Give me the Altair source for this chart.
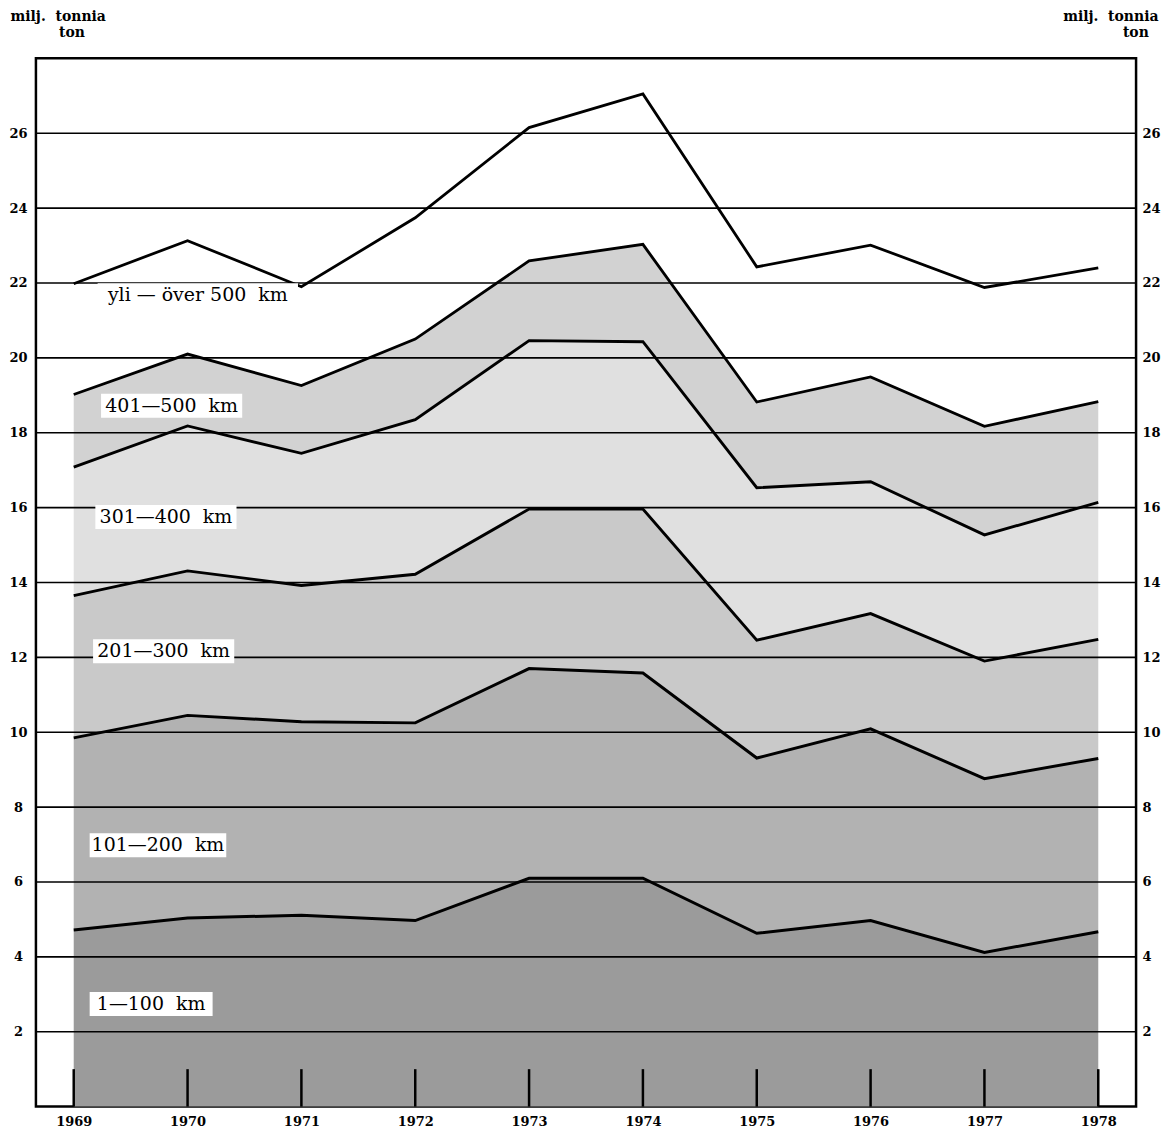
import altair as alt
import pandas as pd

# ---- data (million tonnes, cumulative upper edge of each distance band) ----
years = [1969, 1970, 1971, 1972, 1973, 1974, 1975, 1976, 1977, 1978]
bands = ["1—100 km", "101—200 km", "201—300 km", "301—400 km", "401—500 km", "yli — över 500 km"]

cum_1_100   = [4.72, 5.04, 5.11, 4.97, 6.10, 6.10, 4.63, 4.97, 4.12, 4.67]
cum_101_200 = [9.85, 10.45, 10.28, 10.25, 11.70, 11.58, 9.31, 10.09, 8.76, 9.30]
cum_201_300 = [13.65, 14.31, 13.92, 14.22, 15.96, 15.96, 12.46, 13.17, 11.90, 12.48]
cum_301_400 = [17.08, 18.18, 17.45, 18.35, 20.46, 20.43, 16.53, 16.69, 15.27, 16.14]
cum_401_500 = [19.02, 20.10, 19.26, 20.50, 22.59, 23.03, 18.82, 19.49, 18.17, 18.83]
cum_total   = [21.98, 23.13, 21.90, 23.74, 26.15, 27.05, 22.43, 23.01, 21.88, 22.40]

grid_values = [2, 4, 6, 8, 10, 12, 14, 16, 18, 20, 22, 24, 26]

# band labels (annotation placement)
label_text = ["yli — över\u00a0500\u00a0\u00a0km", "401—500\u00a0\u00a0km", "301—400\u00a0\u00a0km",
              "201—300\u00a0\u00a0km", "101—200\u00a0\u00a0km", "1—100\u00a0\u00a0km"]
label_cx = [1970.09, 1969.86, 1969.81, 1969.79, 1969.74, 1969.68]
label_cy = [21.67, 18.72, 15.75, 12.16, 6.98, 2.74]
label_halfw = [0.88, 0.62, 0.62, 0.62, 0.60, 0.54]
label_halfh = 0.32
tick_top = 1.0

# ---- styles ----
band_fill = ["#9b9b9b", "#b2b2b2", "#c9c9c9", "#e0e0e0", "#d2d2d2", "#ffffff"]
band_line = [3.0, 2.8, 2.4, 2.6, 2.6, 2.2]
serif = "DejaVu Serif"
ZW = "\u200b"

tops = [cum_1_100, cum_101_200, cum_201_300, cum_301_400, cum_401_500, cum_total]
rows = []
for i, (b, t) in enumerate(zip(bands, tops)):
    low = tops[i - 1] if i > 0 else [0.0] * len(years)
    for yr, lo, hi in zip(years, low, t):
        rows.append({"year": yr, "band": b, "lo": lo, "hi": hi})
df = pd.DataFrame(rows)

ann = pd.DataFrame({
    "label": label_text,
    "cx": label_cx,
    "cy": label_cy,
    "x0": [c - w for c, w in zip(label_cx, label_halfw)],
    "x1": [c + w for c, w in zip(label_cx, label_halfw)],
    "y0": [c - label_halfh for c in label_cy],
    "y1": [c + label_halfh for c in label_cy],
})
ticks_df = pd.DataFrame({"year": years, "t0": [0.0] * len(years), "t1": [tick_top] * len(years)})

xscale = alt.Scale(domain=[1968.668, 1978.332], nice=False, zero=False)
yscale = alt.Scale(domain=[0, 28], nice=False, zero=False)

left_axis = alt.Axis(
    orient="left", values=grid_values, grid=False, ticks=False, tickSize=0, domain=False,
    labelAlign="center", labelPadding=18, labelFont=serif, labelFontSize=13,
    labelFontWeight="bold", labelColor="black",
    title=["milj.\u00a0\u00a0tonnia", ZW + "\u00a0" * 10 + "ton"], titleAngle=0, titleAlign="left",
    titleBaseline="top", titleX=-26, titleY=-49, titleFont=serif, titleFontSize=14,
    titleFontWeight="bold", titleColor="black", titleLineHeight=16,
)
right_axis = alt.Axis(
    orient="right", values=grid_values, grid=False, ticks=False, tickSize=0, domain=False,
    labelAlign="left", labelPadding=6, labelFont=serif, labelFontSize=13,
    labelFontWeight="bold", labelColor="black",
    title=["milj.\u00a0\u00a0tonnia", "ton\u00a0\u00a0" + ZW], titleAngle=0, titleAlign="right",
    titleBaseline="top", titleX=22, titleY=-49, titleFont=serif, titleFontSize=14,
    titleFontWeight="bold", titleColor="black", titleLineHeight=16,
)
x_axis = alt.Axis(
    values=years, format="d", title=None, grid=False, ticks=False, tickSize=0, domain=False,
    labelPadding=9, labelFont=serif, labelFontSize=13, labelFontWeight="bold", labelColor="black",
)


def X(field):
    return alt.X(field, scale=xscale, axis=x_axis)


areas = alt.Chart(df).mark_area(interpolate="linear").encode(
    x=X("year:Q"),
    y=alt.Y("hi:Q", scale=yscale, axis=left_axis),
    y2="lo:Q",
    color=alt.Color("band:N", scale=alt.Scale(domain=bands, range=band_fill), legend=None),
)

grid = alt.Chart(pd.DataFrame({"v": grid_values})).mark_rule(color="black", strokeWidth=1.6).encode(
    y=alt.Y("v:Q", scale=yscale, axis=right_axis),
)

year_ticks = alt.Chart(ticks_df).mark_rule(color="black", strokeWidth=2.5).encode(
    x=X("year:Q"),
    y=alt.Y("t0:Q", scale=yscale, axis=None),
    y2="t1:Q",
)

lines = alt.Chart(df).mark_line(color="black", interpolate="linear").encode(
    x=X("year:Q"),
    y=alt.Y("hi:Q", scale=yscale, axis=None),
    detail="band:N",
    strokeWidth=alt.StrokeWidth("band:N", scale=alt.Scale(domain=bands, range=band_line), legend=None),
)

boxes = alt.Chart(ann).mark_rect(color="white").encode(
    x=X("x0:Q"), x2="x1:Q",
    y=alt.Y("y0:Q", scale=yscale, axis=None), y2="y1:Q",
)

texts = alt.Chart(ann).mark_text(font=serif, fontSize=19, align="center", baseline="middle",
                                 color="black").encode(
    x=X("cx:Q"),
    y=alt.Y("cy:Q", scale=yscale, axis=None),
    text="label:N",
)

chart = alt.layer(areas, grid, year_ticks, lines, boxes, texts).resolve_axis(
    y="independent"
).properties(
    width=1103, height=1051,
    padding={"left": 0, "top": 0, "right": 0, "bottom": 0},
    background="white",
).configure_view(stroke="black", strokeWidth=2.5)

chart.save("out.html", embed_options={"renderer": "svg", "actions": False})
